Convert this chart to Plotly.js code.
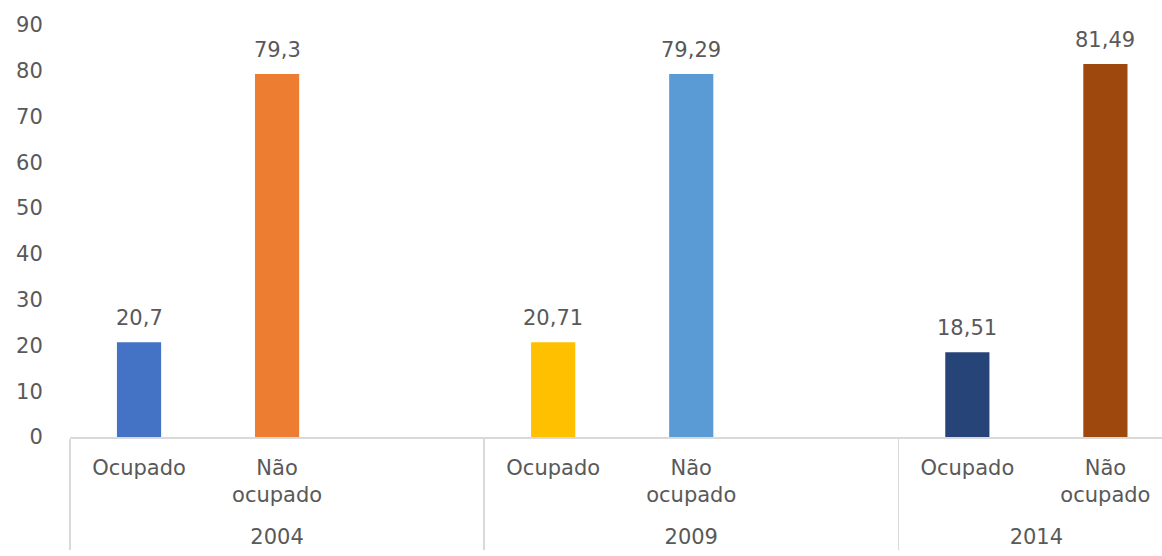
<!DOCTYPE html>
<html>
<head>
<meta charset="utf-8">
<script src="https://cdn.plot.ly/plotly-3.0.1.min.js"></script>
<style>html,body{margin:0;padding:0;background:#fff;}#chart{width:1162px;height:556px;}</style>
</head>
<body>
<div id="chart"></div>
<script>
// Data
const years = ['<br>2004', '<br>2004', '<br>2004', '<br>2009', '<br>2009', '<br>2009', '<br>2014', '<br>2014'];
const situations = ['Ocupado', 'Não<br>ocupado', ' ', 'Ocupado', 'Não<br>ocupado', ' ', 'Ocupado', 'Não<br>ocupado'];
const values = [20.7, 79.3, null, 20.71, 79.29, null, 18.51, 81.49];
const barColors = ['#4472C4', '#ED7D31', '#FFFFFF', '#FFC000', '#5B9BD5', '#FFFFFF', '#264478', '#9E480E'];
const yTicks = [0, 10, 20, 30, 40, 50, 60, 70, 80, 90];

const labels = values.map(v => v === null ? '' : String(v).replace('.', ','));

const trace = {
  type: 'bar',
  x: [years, situations],
  y: values,
  marker: {color: barColors, line: {width: 0}},
  width: 0.32,
  hoverinfo: 'none'
};

const annotations = [];
values.forEach((v, i) => {
  if (v === null) return;
  annotations.push({
    x: i, y: v, xref: 'x', yref: 'y',
    text: labels[i], showarrow: false,
    yanchor: 'bottom', xanchor: 'center', yshift: 10,
    font: {family: 'DejaVu Sans', size: 21, color: '#595959'}
  });
});

const layout = {
  width: 1162,
  height: 556,
  margin: {l: 70, r: 0, t: 25, b: 119},
  paper_bgcolor: '#ffffff',
  plot_bgcolor: '#ffffff',
  showlegend: false,
  font: {family: 'DejaVu Sans', size: 21, color: '#595959'},
  annotations: annotations,
  xaxis: {
    type: 'multicategory',
    range: [-0.5, 7.41],
    showline: true,
    linecolor: '#d9d9d9',
    linewidth: 1.5,
    showgrid: false,
    zeroline: false,
    ticks: '',
    ticklabelstandoff: 11,
    showdividers: true,
    dividercolor: '#d9d9d9',
    dividerwidth: 1.5,
    tickfont: {family: 'DejaVu Sans', size: 21, color: '#595959'}
  },
  yaxis: {
    range: [0, 90],
    tickvals: yTicks,
    ticktext: yTicks.map(String),
    showgrid: false,
    zeroline: false,
    showline: false,
    ticks: 'outside',
    ticklen: 22,
    tickcolor: 'rgba(0,0,0,0)',
    tickfont: {family: 'DejaVu Sans', size: 21, color: '#595959'}
  }
};

Plotly.newPlot('chart', [trace], layout, {displayModeBar: false, staticPlot: true});
</script>
</body>
</html>
